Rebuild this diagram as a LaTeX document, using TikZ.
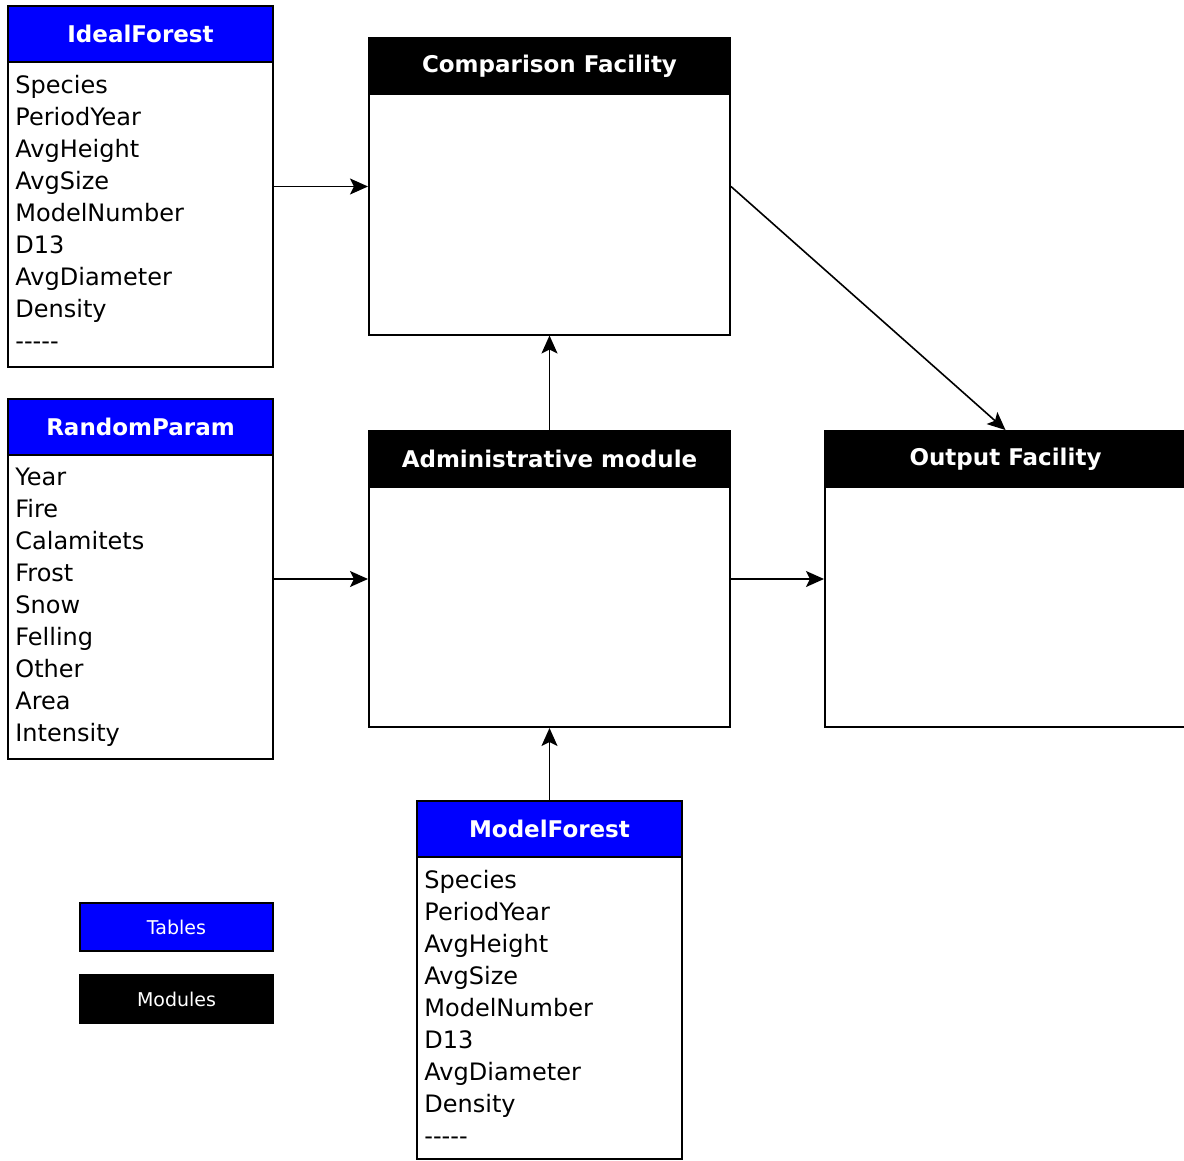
\documentclass[tikz,border=0pt]{standalone}
\usepackage{fontspec}
\setmainfont{DejaVu Sans}
\usetikzlibrary{positioning,arrows.meta}
\begin{document}
\begin{tikzpicture}[x=0.5pt, y=-0.5pt,
  table/.style = {draw, line width=1pt, fill=white, minimum width=132.5pt, inner sep=0pt},
  module/.style = {draw, line width=1pt, fill=white, minimum width=180.5pt, minimum height=148pt, inner sep=0pt},
  tablehead/.style = {draw, line width=1pt, fill=blue, text=white, font=\fontsize{11.5}{14}\selectfont\bfseries, minimum width=132.5pt, minimum height=28pt, inner sep=0pt, anchor=north},
  modhead/.style = {tablehead, fill=black, minimum width=180.5pt},
  fields/.style = {align=left, inner sep=0pt, font=\fontsize{12}{16}\selectfont},
  legend/.style = {draw, line width=1pt, text=white, font=\fontsize{9.5}{12}\selectfont, minimum width=96.5pt, minimum height=24pt, inner sep=0pt},
  arr/.style = {-{Stealth[length=9pt, width=8pt, inset=2pt]}, line width=0.8pt}]
  \clip (0,0) rectangle (1184,1161);

  \node[table, minimum height=180.5pt] (ideal) at (140.5,186.5) {};
  \node[tablehead] (idealhead) at (ideal.north) {IdealForest};
  \node[fields, below right=5.75pt and 4pt of idealhead.south west] (idealfields) {Species\\PeriodYear\\AvgHeight\\AvgSize\\ModelNumber\\D13\\AvgDiameter\\Density\\{-}{-}{-}{-}{-}};

  \node[table, minimum height=180pt] (random) at (140.5,579) {};
  \node[tablehead] (randomhead) at (random.north) {RandomParam};
  \node[fields, below right=5.75pt and 4pt of randomhead.south west] (randomfields) {Year\\Fire\\Calamitets\\Frost\\Snow\\Felling\\Other\\Area\\Intensity};

  \node[table, minimum height=179pt] (model) at (549.5,980) {};
  \node[tablehead] (modelhead) at (model.north) {ModelForest};
  \node[fields, below right=5.75pt and 4pt of modelhead.south west] (modelfields) {Species\\PeriodYear\\AvgHeight\\AvgSize\\ModelNumber\\D13\\AvgDiameter\\Density\\{-}{-}{-}{-}{-}};

  \node[module] (cmp) at (549.5,186.5) {};
  \node[modhead] (cmphead) at (cmp.north) {Comparison Facility};

  \node[module] (admin) at (549.5,579) {};
  \node[modhead] (adminhead) at (admin.north) {Administrative module};

  \node[module] (out) at (1005.5,579) {};
  \node[modhead] (outhead) at (out.north) {Output Facility};

  \node[legend, fill=blue] (tables) at (176.5,927) {Tables};
  \node[legend, fill=black] (modules) at (176.5,999) {Modules};

  \draw[arr] (ideal.east) -- (cmp.west);
  \draw[arr] (random.east) -- (admin.west);
  \draw[arr] (admin.east) -- (out.west);
  \draw[arr] (admin.north) -- (cmp.south);
  \draw[arr] (model.north) -- (admin.south);
  \draw[arr] (cmp.east) -- (outhead.north);
\end{tikzpicture}
\end{document}
